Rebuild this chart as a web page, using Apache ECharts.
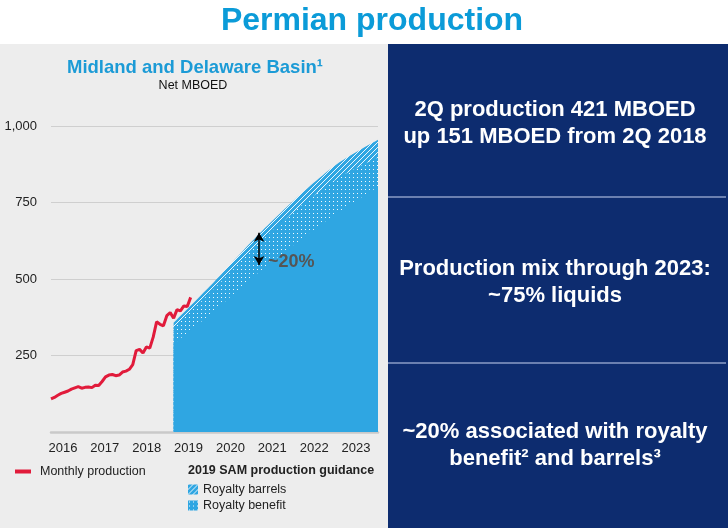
<!DOCTYPE html>
<html><head><meta charset="utf-8">
<script src="https://cdn.jsdelivr.net/npm/echarts@6/dist/echarts.min.js"></script>
<style>html,body{margin:0;padding:0;background:#fff}#c{width:728px;height:528px}</style>
</head><body><div id="c"></div><script>
// ---- data ----
const yearLabels = ['2016','2017','2018','2019','2020','2021','2022','2023'];
const monthlyStart = 2016; // Jan 2016, monthly steps
const monthlyProduction = [108,113,120,126,130,134,140,144,148,143,146,147,
  145,153,152,165,180,186,188,184,186,196,199,205,
  220,266,270,258,278,274,310,360,352,347,380,390,
  372,400,396,412,410,440];
const guidanceYears = [2019,2020,2021,2022,2023,2024];
const baseProduction = [287,396,513,618,716,801];
const royaltyBenefit = [54,72,92,108,112,96];
const royaltyBarrels = [16,24,30,38,48,58];
const arrowSpan = {x: 2021.09, top: 651, bottom: 546};

const FONT = 'Liberation Sans';
const BLUE = '#2fa6e2';

function patternCanvas(kind){
  const c = document.createElement('canvas');
  const s = kind === 'stripes' ? 5 : 4;
  c.width = s; c.height = s;
  const g = c.getContext('2d');
  g.fillStyle = BLUE; g.fillRect(0,0,s,s);
  if (kind === 'stripes'){
    g.strokeStyle = 'rgba(255,255,255,0.9)'; g.lineWidth = 1;
    g.beginPath();
    for (let k=-s;k<=2*s;k+=s){ g.moveTo(k,s); g.lineTo(k+s,0); }
    g.stroke();
  } else {
    g.fillStyle = 'rgba(255,255,255,0.95)';
    g.fillRect(1,1,1,1);
  }
  return c;
}
const mkPattern = kind => ({image: patternCanvas(kind), repeat: 'repeat'});

// cumulative tops (drawn from the axis, top-most first so lower layers overdraw)
const benefitTop = baseProduction.map((v,i)=>v + royaltyBenefit[i]);
const totalTop = benefitTop.map((v,i)=>v + royaltyBarrels[i]);

const chart = echarts.init(document.getElementById('c'), null, {renderer:'canvas'});
const txt = (x,y,text,opts) => ({type:'text', x, y, z:50,
  style: Object.assign({text, fontFamily: FONT, textAlign:'center', textVerticalAlign:'middle'}, opts||{})});

const areaSeries = (name, tops, fill, z) => ({
  name, type:'line', xAxisIndex:0, yAxisIndex:0,
  data: guidanceYears.map((y,i)=>[y, tops[i]]),
  smooth:0.25, showSymbol:false, symbol:'none',
  lineStyle:{width:0, opacity:0, color:BLUE}, itemStyle:{color:BLUE},
  areaStyle:{color: fill, opacity:1, origin:'start'}, z
});

chart.setOption({
  backgroundColor: '#ffffff',
  animation: false,
  textStyle: {fontFamily: FONT},
  grid: [
    {left: 51, top: 126, width: 327, height: 306, outerBoundsMode: 'none', containLabel: false},
    {left: 42, top: 433, width: 335, height: 1, outerBoundsMode: 'none', containLabel: false}
  ],
  xAxis: [
    {type:'value', gridIndex:0, min:2016, max:2024, interval:1,
     axisLabel:{show:false}, axisTick:{show:false}, splitLine:{show:false},
     axisLine:{show:true, lineStyle:{color:'#c9c9c9', width:2.5}}},
    {type:'category', gridIndex:1, data: yearLabels, boundaryGap:true,
     axisLine:{show:false}, axisTick:{show:false},
     axisLabel:{fontSize:13, color:'#222', margin:8, fontFamily:FONT}}
  ],
  yAxis: [
    {type:'value', gridIndex:0, min:0, max:1000, interval:250,
     axisLine:{show:false}, axisTick:{show:false},
     axisLabel:{fontSize:13, color:'#222', margin:14, fontFamily:FONT,
       formatter: v => v === 0 ? '' : v.toLocaleString('en-US')},
     splitLine:{lineStyle:{color:'#cfcfcf', width:1}}},
    {type:'value', gridIndex:1, show:false}
  ],
  legend: [
    {data:[{name:'Monthly production', icon:'rect'}], left: 10, top: 460,
     itemWidth: 16, itemHeight: 4, selectedMode: false,
     textStyle:{fontSize:12.5, color:'#222', fontFamily:FONT, padding:[0,0,0,4]}},
    {data:[{name:'Royalty barrels', icon:'rect', itemStyle:{color: mkPattern('stripes')}},
           {name:'Royalty benefit', icon:'rect', itemStyle:{color: mkPattern('dots')}}],
     orient:'vertical', left: 183, top: 478, itemWidth: 10, itemHeight: 10, itemGap: 3,
     selectedMode: false,
     textStyle:{fontSize:12.5, color:'#222', fontFamily:FONT}}
  ],
  graphic: [
    {type:'rect', z:-100, shape:{x:0,y:44,width:388,height:484}, style:{fill:'#ededed'}},
    {type:'rect', z:-100, shape:{x:388,y:44,width:340,height:484}, style:{fill:'#0d2c6f'}},
    {type:'line', z:50, shape:{x1:388,y1:197,x2:726,y2:197}, style:{stroke:'#6b80b0', lineWidth:2}},
    {type:'line', z:50, shape:{x1:388,y1:363,x2:726,y2:363}, style:{stroke:'#6b80b0', lineWidth:2}},
    txt(372, 21, 'Permian production', {fontSize:32, fontWeight:'bold', fill:'#0b9bd8'}),
    txt(195, 68, 'Midland and Delaware Basin¹', {fontSize:18.5, fontWeight:'bold', fill:'#1c9bd6'}),
    txt(193, 86, 'Net MBOED', {fontSize:12.5, fill:'#111'}),
    txt(268, 262, '~20%', {fontSize:18, fontWeight:'bold', fill:'#555', textAlign:'left'}),
    txt(188, 471, '2019 SAM production guidance', {fontSize:12.5, fontWeight:'bold', fill:'#222', textAlign:'left'}),
    txt(555, 110, '2Q production 421 MBOED', {fontSize:22, fontWeight:'bold', fill:'#fff'}),
    txt(555, 137, 'up 151 MBOED from 2Q 2018', {fontSize:22, fontWeight:'bold', fill:'#fff'}),
    txt(555, 269, 'Production mix through 2023:', {fontSize:22, fontWeight:'bold', fill:'#fff'}),
    txt(555, 296, '~75% liquids', {fontSize:22, fontWeight:'bold', fill:'#fff'}),
    txt(555, 432, '~20% associated with royalty', {fontSize:22, fontWeight:'bold', fill:'#fff'}),
    txt(555, 459, 'benefit² and barrels³', {fontSize:22, fontWeight:'bold', fill:'#fff'})
  ],
  series: [
    areaSeries('Royalty barrels', totalTop, mkPattern('stripes'), 2),
    areaSeries('Royalty benefit', benefitTop, mkPattern('dots'), 3),
    areaSeries('Base guidance', baseProduction, BLUE, 4),
    {name:'Monthly production', type:'line', xAxisIndex:0, yAxisIndex:0,
     data: monthlyProduction.map((v,i)=>[monthlyStart + i/12, v]),
     showSymbol:false, lineStyle:{color:'#e11b3b', width:3}, itemStyle:{color:'#e11b3b'}, z:6,
     markLine:{silent:true, symbol:['arrow','arrow'], symbolSize:[8,9],
       label:{show:false}, lineStyle:{color:'#000', width:1.5, type:'solid'},
       data:[[{coord:[arrowSpan.x, arrowSpan.top]},{coord:[arrowSpan.x, arrowSpan.bottom]}]]}}
  ]
});
</script></body></html>
